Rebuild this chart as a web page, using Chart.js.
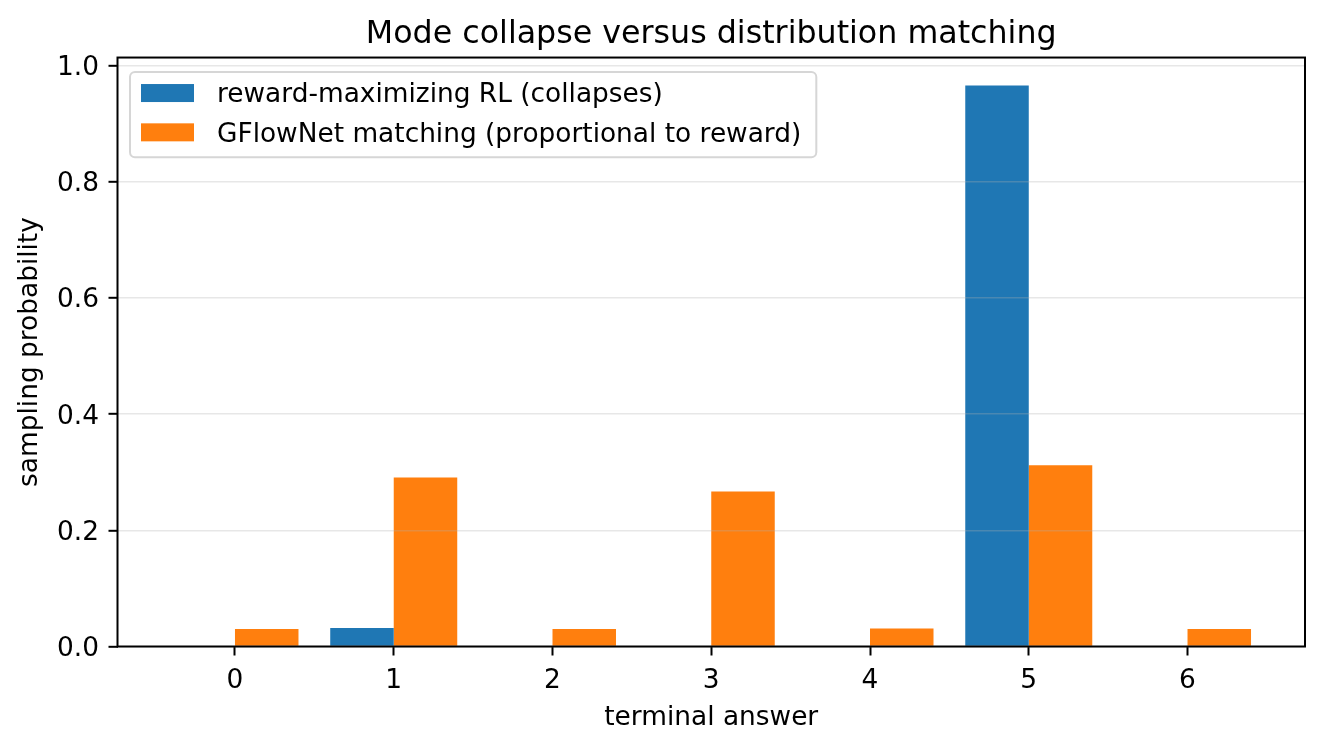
<!DOCTYPE html>
<html>
<head>
<meta charset="utf-8">
<title>Mode collapse versus distribution matching</title>
<script src="https://cdn.jsdelivr.net/npm/chart.js@4/dist/chart.umd.min.js"></script>
<style>
  html, body { margin: 0; padding: 0; background: #fff; }
  #chart { display: block; }
</style>
</head>
<body>
<canvas id="chart" width="1324" height="748"></canvas>
<script>
// terminal answers 0..6 and the sampling probability each policy puts on them
const ANSWERS = [0, 1, 2, 3, 4, 5, 6];
const X_TICK_LABELS = ["0", "1", "2", "3", "4", "5", "6"];
const RL_PROBS = [0, 0.032, 0, 0, 0, 0.966, 0];
const GFN_PROBS = [0.030, 0.291, 0.030, 0.267, 0.031, 0.312, 0.030];
const Y_TICKS = [0, 0.2, 0.4, 0.6, 0.8, 1.0];
const Y_TICK_LABELS = ["0.0", "0.2", "0.4", "0.6", "0.8", "1.0"];
const SERIES_LABELS = ["reward-maximizing RL (collapses)", "GFlowNet matching (proportional to reward)"];

const FONT = "'DejaVu Sans', sans-serif";
const COLORS = ["#1f77b4", "#ff7f0e"];

// matplotlib-ish axis limits: bars span x-0.4..x+0.4, 5% margin on both axes
const X_MIN = -0.74, X_MAX = 6.74;
const Y_MAX = Math.max(...RL_PROBS, ...GFN_PROBS) * 1.05;

function toPoints(values) {
  return ANSWERS.map((x, i) => ({ x: x, y: values[i] }));
}

// legend drawn inside the axes with a rounded, semi-transparent frame
const boxedLegend = {
  id: "boxedLegend",
  afterDraw(chart, args, o) {
    const { ctx, chartArea } = chart;
    const sets = chart.data.datasets;
    ctx.save();
    ctx.font = o.font;
    const textW = Math.max(...sets.map((d) => ctx.measureText(d.label).width));
    const x = chartArea.left + o.offsetX;
    const y = chartArea.top + o.offsetY;
    const w = o.pad + o.handleW + o.gap + textW + o.padRight;
    const h = o.padTop + o.rowH * (sets.length - 1) + o.handleH + o.padBottom;
    ctx.beginPath();
    ctx.roundRect(x, y, w, h, o.radius);
    ctx.fillStyle = "rgba(255,255,255,0.8)";
    ctx.fill();
    ctx.lineWidth = 2;
    ctx.strokeStyle = "rgba(204,204,204,0.8)";
    ctx.stroke();
    sets.forEach((d, i) => {
      const hy = y + o.padTop + i * o.rowH;
      ctx.fillStyle = d.backgroundColor;
      ctx.fillRect(x + o.pad, hy, o.handleW, o.handleH);
      ctx.fillStyle = "#000";
      ctx.textBaseline = "middle";
      ctx.textAlign = "left";
      ctx.fillText(d.label, x + o.pad + o.handleW + o.gap, hy + o.handleH / 2 + o.textShift);
    });
    ctx.restore();
  },
};

// all four spines, on top of bars and grid
const axesFrame = {
  id: "axesFrame",
  afterDraw(chart) {
    const { ctx, chartArea: a } = chart;
    ctx.save();
    ctx.lineWidth = 2;
    ctx.strokeStyle = "#000";
    ctx.strokeRect(a.left, a.top, a.right - a.left, a.bottom - a.top);
    ctx.restore();
  },
};

Chart.defaults.font.family = FONT;
Chart.defaults.font.size = 26.4;
Chart.defaults.color = "#000";

new Chart(document.getElementById("chart"), {
  type: "bar",
  data: {
    datasets: [
      { label: SERIES_LABELS[0], data: toPoints(RL_PROBS), backgroundColor: COLORS[0], borderWidth: 0 },
      { label: SERIES_LABELS[1], data: toPoints(GFN_PROBS), backgroundColor: COLORS[1], borderWidth: 0 },
    ],
  },
  options: {
    responsive: false,
    devicePixelRatio: 1,
    animation: false,
    categoryPercentage: 0.8,
    barPercentage: 1.0,
    layout: { padding: { left: 0, right: 19, top: 0, bottom: 0 } },
    scales: {
      x: {
        type: "linear",
        min: X_MIN,
        max: X_MAX,
        offset: false,
        afterBuildTicks: (s) => { s.ticks = ANSWERS.map((v) => ({ value: v })); },
        afterFit: (s) => { s.height = 101.5; },
        ticks: { padding: 10, callback: (v, i) => X_TICK_LABELS[i] },
        grid: { offset: false, drawOnChartArea: false, drawTicks: true, tickLength: 9, tickColor: "#000", tickWidth: 2 },
        border: { display: false },
        title: { display: true, text: "terminal answer", padding: { top: 0, bottom: 14.5 } },
      },
      y: {
        min: 0,
        max: Y_MAX,
        afterBuildTicks: (s) => { s.ticks = Y_TICKS.map((v) => ({ value: v })); },
        afterFit: (s) => { s.width = 117.5; },
        ticks: { padding: 9.5, labelOffset: 2.5, callback: (v, i) => Y_TICK_LABELS[i] },
        grid: { color: "rgba(176,176,176,0.3)", lineWidth: 1.6, z: 1, drawTicks: true, tickLength: 9, tickColor: "#000", tickWidth: 2 },
        border: { display: false },
        title: { display: true, text: "sampling probability", padding: { top: 14.4, bottom: 0 } },
      },
    },
    plugins: {
      legend: { display: false },
      tooltip: { enabled: false },
      title: {
        display: true,
        text: "Mode collapse versus distribution matching",
        fullSize: false,
        color: "#000",
        font: { size: 31.7, weight: "normal", lineHeight: 1.2 },
        padding: { top: 15.5, bottom: 4 },
      },
      boxedLegend: {
        font: "26.4px " + FONT,
        offsetX: 12.5, offsetY: 14.5,
        pad: 11, padRight: 15, padTop: 12, padBottom: 16,
        handleW: 53, handleH: 18, gap: 23, rowH: 39.3, radius: 5, textShift: 2.5,
      },
    },
  },
  plugins: [boxedLegend, axesFrame],
});
</script>
</body>
</html>
